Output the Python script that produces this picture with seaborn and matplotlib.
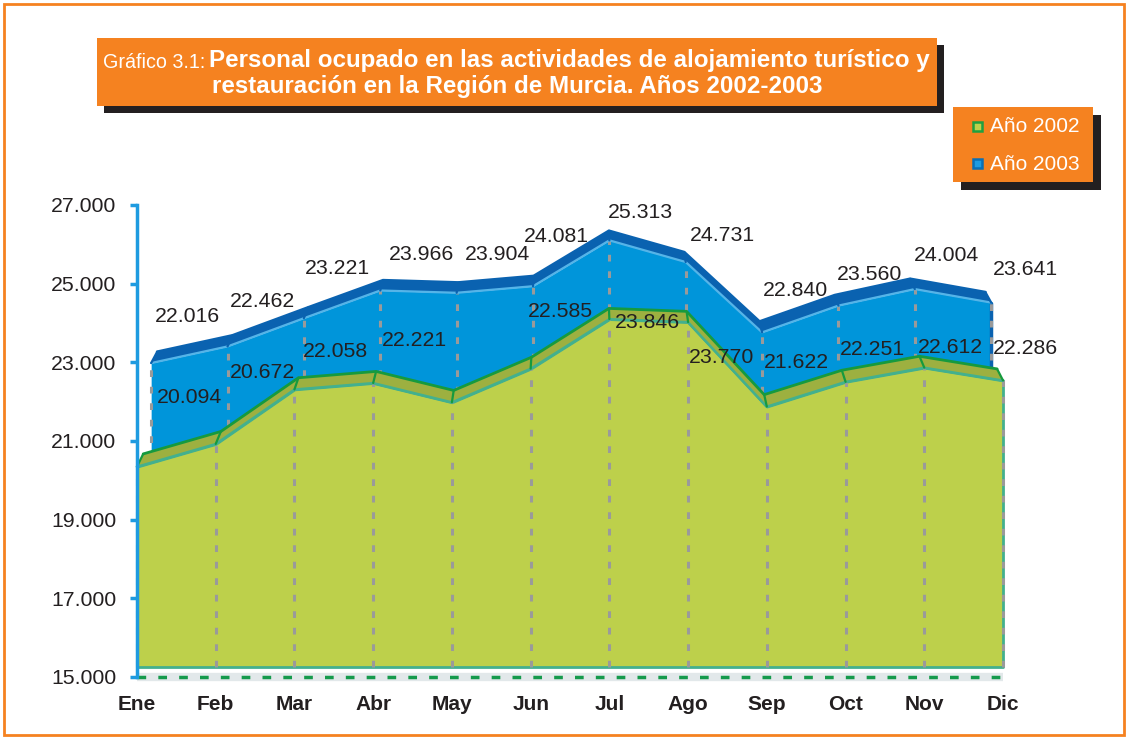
import numpy as np
import matplotlib
matplotlib.use("Agg")
import matplotlib.pyplot as plt
import seaborn as sns
import pandas as pd
from matplotlib.transforms import Affine2D, IdentityTransform
from matplotlib.patches import Rectangle, Polygon
from matplotlib import font_manager

# ---------------- data ----------------
months = ["Ene", "Feb", "Mar", "Abr", "May", "Jun", "Jul", "Ago", "Sep", "Oct", "Nov", "Dic"]
vals_2002 = [20094, 20672, 22058, 22221, 21731, 22585, 23846, 23770, 21622, 22251, 22612, 22286]
vals_2003 = [22016, 22462, 23221, 23966, 23904, 24081, 25313, 24731, 22840, 23560, 24004, 23641]
show_label_2002 = [True, True, True, True, False, True, True, True, True, True, True, True]
yticks = [15000, 17000, 19000, 21000, 23000, 25000, 27000]

# label placement (axis units), styling only
lab03_x = [0.635, 1.600, 2.540, 3.620, 4.573, 5.322, 6.389, 7.430, 8.358, 9.310, 10.288, 11.279]
lab03_y = [24153, 24534, 25398, 25729, 25729, 26187, 26797, 26212, 24814, 25221, 25704, 25348]
lab02_x = [0.673, 1.588, 2.515, 3.518, 4.5, 5.373, 6.478, 7.430, 8.370, 9.336, 10.326, 11.279]
lab02_y = [22094, 22729, 23263, 23543, 23000, 24280, 24000, 23111, 22984, 23314, 23365, 23340]

df = pd.DataFrame({"mes": months, "idx": np.arange(len(months)),
                   "a2002": vals_2002, "a2003": vals_2003})

def fmt(v):
    return f"{v:,}".replace(",", ".")

# ---------------- style ----------------
sns.set_theme(style="white")
names = {f.name for f in font_manager.fontManager.ttflist}
base_family = ["Liberation Sans", "DejaVu Sans"]
plt.rcParams["font.family"] = base_family
narrow = "Liberation Sans Narrow" in names

ORANGE = "#F58220"
BLUE_FACE = "#0095DA"
BLUE_BAND = "#0A62B0"
BLUE_EDGE = "#55B4E8"
GREEN_FACE = "#BDD04B"
GREEN_BAND = "#9DB040"
GREEN_TOP = "#169A3E"
GREEN_EDGE = "#43B08E"
AXIS_BLUE = "#1E9BE0"
TXT = "#231F20"
DASH = "#9A9A9A"

W, H = 1128, 738
fig = plt.figure(figsize=(W / 100, H / 100), dpi=100)
fig.patch.set_facecolor("white")
ax = fig.add_axes([137 / W, 61 / H, 866 / W, 472 / H])
ax.set_xlim(0, 11)
ax.set_ylim(15000, 27000)
ax.set_facecolor("none")

x = df["idx"].to_numpy(dtype=float)
v02 = df["a2002"].to_numpy(dtype=float)
v03 = df["a2003"].to_numpy(dtype=float)
base = np.full_like(x, 15000.0)

# pseudo-3D transforms (pixel offsets applied after data transform)
t02 = ax.transData + Affine2D().translate(0, 10)
t03 = ax.transData + Affine2D().translate(-609, 0).scale(0.97, 0.946).translate(609, 56.2)
VP = (580.0, 1180.0)
S = 0.986
back = Affine2D().translate(-VP[0], -VP[1]).scale(S).translate(VP[0], VP[1])


def band(tr, vals, face, top, front_line, z):
    pts = tr.transform(np.column_stack([x, vals]))
    bpts = back.transform(pts)
    poly = np.vstack([pts, bpts[::-1]])
    ax.add_patch(Polygon(poly, closed=True, facecolor=face, edgecolor="none",
                         transform=IdentityTransform(), clip_on=False, zorder=z))
    ax.plot(bpts[:, 0], bpts[:, 1], color=top, lw=2, transform=IdentityTransform(),
            clip_on=False, zorder=z + 0.1, solid_joinstyle="round")
    ax.plot(pts[:, 0], pts[:, 1], color=front_line, lw=1.6, transform=IdentityTransform(),
            clip_on=False, zorder=z + 0.1)
    for p, q in zip(pts, bpts):
        ax.plot([p[0], q[0]], [p[1], q[1]], color=top, lw=1.6,
                transform=IdentityTransform(), clip_on=False, zorder=z + 0.1)


# ---- 2003 (back series) ----
ax.fill_between(x, base, v03, color=BLUE_FACE, lw=0, transform=t03, clip_on=False, zorder=1)
for xi, vi in zip(x, v03):
    ax.plot([xi, xi], [15000, vi], color=DASH, lw=2.2, ls=(0, (2.2, 3.2)),
            transform=t03, clip_on=False, zorder=1.2)
ax.plot([x[-1], x[-1]], [15000, v03[-1]], color=BLUE_BAND, lw=2.5,
        transform=t03, clip_on=False, zorder=1.1)
band(t03, v03, BLUE_BAND, BLUE_BAND, BLUE_EDGE, 1.5)

# ---- 2002 (front series) ----
ax.fill_between(x, base, v02, facecolor=GREEN_FACE, edgecolor=GREEN_EDGE, lw=2,
                transform=t02, clip_on=False, zorder=2)
for xi, vi in zip(x, v02):
    ax.plot([xi, xi], [15000, vi], color=DASH, lw=2.2, ls=(0, (2.2, 3.2)),
            transform=t02, clip_on=False, zorder=2.2)
band(t02, v02, GREEN_BAND, GREEN_TOP, GREEN_EDGE, 2.5)
sns.lineplot(data=df, x="idx", y="a2002", color=GREEN_EDGE, lw=2, ax=ax,
             transform=t02, zorder=2.4, clip_on=False)

# floor line
ax.plot([0, 11], [15000, 15000], color="#E2E8EA", lw=6, zorder=0.5, clip_on=False, solid_capstyle="butt")
ax.plot([0, 11], [15000, 15000], color="#159A4C", lw=2.5, ls=(0, (2.5, 3.5)), zorder=3, clip_on=False)

# value labels
for xi, yi, v in zip(lab03_x, lab03_y, vals_2003):
    ax.text(xi, yi, fmt(v), ha="center", va="center", fontsize=15.3, color=TXT, zorder=10)
for xi, yi, v, s in zip(lab02_x, lab02_y, vals_2002, show_label_2002):
    if s:
        ax.text(xi, yi, fmt(v), ha="center", va="center", fontsize=15.3, color=TXT, zorder=10)

# axes styling
for sp in ["top", "right", "bottom"]:
    ax.spines[sp].set_visible(False)
ax.spines["left"].set_color(AXIS_BLUE)
ax.spines["left"].set_linewidth(2.5)
ax.spines["left"].set_zorder(5)
ax.set_yticks(yticks)
ax.set_yticklabels([fmt(t) for t in yticks])
ax.tick_params(axis="y", direction="out", length=5, width=2.5, color=AXIS_BLUE,
               labelsize=15.3, labelcolor=TXT, pad=10, left=True)
ax.set_xticks(x)
ax.set_xticklabels(months, fontweight="bold")
ax.tick_params(axis="x", length=0, labelsize=15, labelcolor=TXT, pad=13)
ax.set_xlabel("")
ax.set_ylabel("")
ax.grid(False)

# ---------------- decorations ----------------
def px_rect(x0, y0, x1, y1, **kw):
    # image pixel coords (top-left origin) -> figure fraction
    return Rectangle((x0 / W, 1 - y1 / H), (x1 - x0) / W, (y1 - y0) / H,
                     transform=fig.transFigure, **kw)

fig.patches.append(px_rect(4, 4, 1124, 735, facecolor="none", edgecolor=ORANGE, lw=2))
# title box
fig.patches.append(px_rect(104, 45, 944, 113, facecolor=TXT, edgecolor="none"))
fig.patches.append(px_rect(97, 38, 937, 106, facecolor=ORANGE, edgecolor="none"))
# legend box
fig.patches.append(px_rect(961, 115, 1101, 190, facecolor=TXT, edgecolor="none"))
fig.patches.append(px_rect(953, 107, 1093, 182, facecolor=ORANGE, edgecolor="none"))

# title text
fig.canvas.draw()
renderer = fig.canvas.get_renderer()
tfam = ["Liberation Sans Narrow", "Liberation Sans"] if narrow else ["Liberation Sans"]
line1a = "Gráfico 3.1:"
line1b = "Personal ocupado en las actividades de alojamiento turístico y"
line2 = "restauración en la Región de Murcia. Años 2002-2003"
size_b = 17 if narrow else 14.2
size_a = size_b * 0.82
ta = fig.text(103 / W, 1 - 62 / H, line1a, ha="left", va="center", color="white",
              fontsize=size_a, family=tfam)
tb = fig.text(0, 1 - 61 / H, line1b, ha="left", va="center", color="white",
              fontsize=size_b, fontweight="bold", family=tfam)
wa = ta.get_window_extent(renderer).width
wb = tb.get_window_extent(renderer).width
target = 933 - 103
scale = target / (wa + 4 + wb)
ta.set_fontsize(size_a * scale)
tb.set_fontsize(size_b * scale)
fig.canvas.draw()
wa = ta.get_window_extent(renderer).width
tb.set_x((103 + wa + 4) / W)
fig.text(517 / W, 1 - 87 / H, line2, ha="center", va="center", color="white",
         fontsize=size_b * scale, fontweight="bold", family=tfam)

# legend
fig.patches.append(px_rect(973, 122, 982, 131, facecolor=GREEN_FACE, edgecolor="#1FA040", lw=1.8))
fig.patches.append(px_rect(973, 159, 982, 168, facecolor=AXIS_BLUE, edgecolor="#0A6FB5", lw=1.8))
fig.text(990 / W, 1 - 126 / H, "Año 2002", ha="left", va="center", color="white", fontsize=15)
fig.text(990 / W, 1 - 164 / H, "Año 2003", ha="left", va="center", color="white", fontsize=15)

fig.savefig("out.png", dpi=100)
